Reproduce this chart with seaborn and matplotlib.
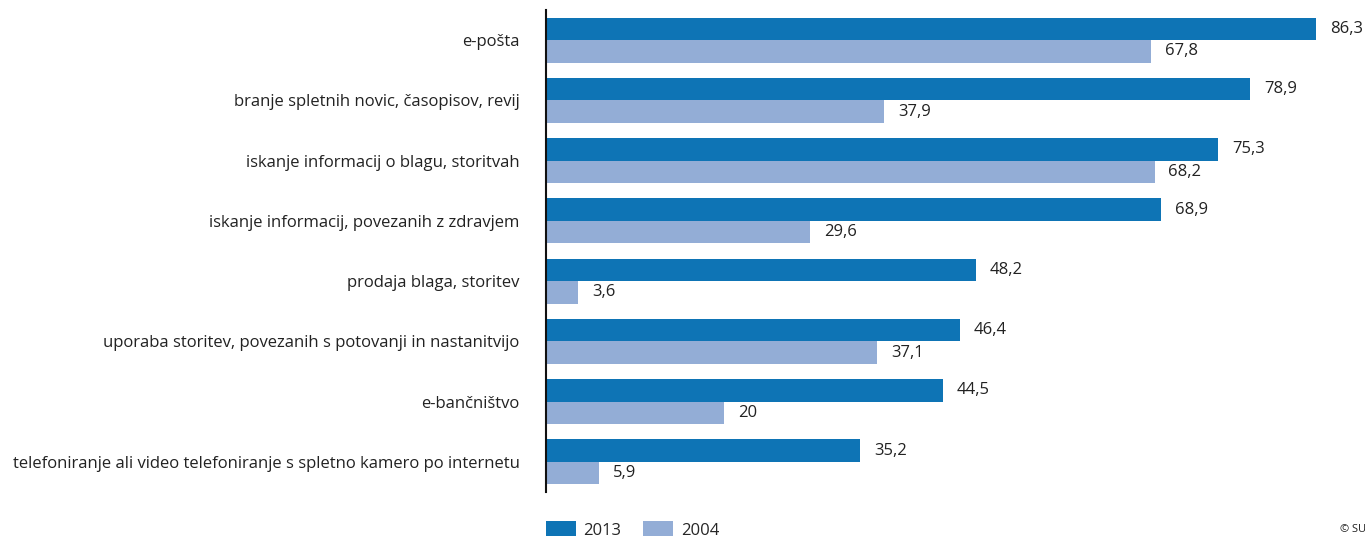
import pandas as pd
import matplotlib.pyplot as plt
import seaborn as sns

# Data
categories = [
    "e-pošta",
    "branje spletnih novic, časopisov, revij",
    "iskanje informacij o blagu, storitvah",
    "iskanje informacij, povezanih z zdravjem",
    "prodaja blaga, storitev",
    "uporaba storitev, povezanih s potovanji in nastanitvijo",
    "e-bančništvo",
    "telefoniranje ali video telefoniranje s spletno kamero po internetu",
]
values_2013 = [86.3, 78.9, 75.3, 68.9, 48.2, 46.4, 44.5, 35.2]
values_2004 = [67.8, 37.9, 68.2, 29.6, 3.6, 37.1, 20, 5.9]
years = ["2013", "2004"]

df = pd.DataFrame({
    "kategorija": categories * 2,
    "vrednost": values_2013 + values_2004,
    "leto": [years[0]] * len(categories) + [years[1]] * len(categories),
})

sns.set_theme(style="white")
plt.rcParams['font.family'] = ['Open Sans', 'DejaVu Sans']

fig = plt.figure(figsize=(13.65, 5.39), dpi=100)
ax = fig.add_axes([546 / 1365, 1 - 492 / 539, 812 / 1365, 482 / 539])

palette = {"2013": "#0E74B5", "2004": "#93ADD6"}
sns.barplot(data=df, y="kategorija", x="vrednost", hue="leto", hue_order=years,
            palette=palette, orient="h", width=0.75, saturation=1, ax=ax,
            legend=False, linewidth=0)

for cont in ax.containers:
    labels = [f"{b.get_width():g}".replace(".", ",") for b in cont]
    ax.bar_label(cont, labels=labels, padding=10, fontsize=12, color="#222222")

ax.set_xlim(0, 91)
ax.set_ylim(7.5, -0.5)
ax.set_xlabel("")
ax.set_ylabel("")
ax.set_xticks([])
ax.tick_params(axis="y", length=0, pad=19, labelsize=12, labelcolor="#222222")
for s in ["top", "right", "bottom"]:
    ax.spines[s].set_visible(False)
ax.spines["left"].set_color("#111111")
ax.spines["left"].set_linewidth(1.5)

# Legend
handles = [plt.Rectangle((0, 0), 1, 1, color=palette[y], linewidth=0) for y in years]
fig.legend(handles, years, loc="center left", bbox_to_anchor=(546 / 1365, 1 - 530 / 539),
           ncol=2, frameon=False, fontsize=12, handlelength=1.8, handleheight=1.0,
           columnspacing=1.3, handletextpad=0.45, borderpad=0, borderaxespad=0)

fig.text(1340 / 1365, 1 - 530 / 539, "© SU", fontsize=8, va="center", ha="left",
         color="#222222")

fig.savefig("out.png", dpi=100)
